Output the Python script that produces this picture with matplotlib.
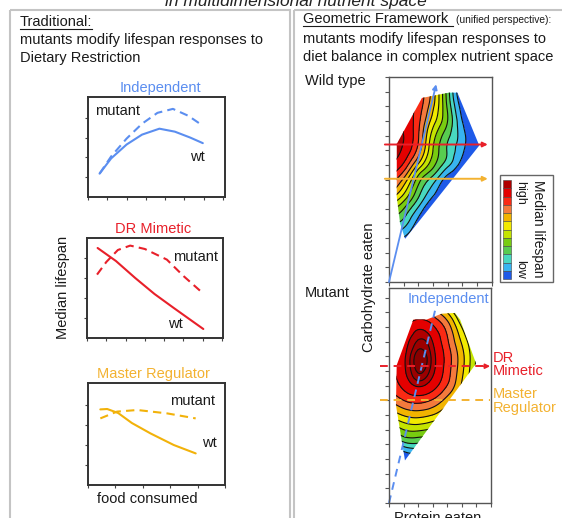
import numpy as np
import matplotlib
matplotlib.use('Agg')
import matplotlib.pyplot as plt
import matplotlib.tri as mtri
from matplotlib.patches import Polygon, Rectangle

plt.rcParams['font.family'] = ['Liberation Sans', 'DejaVu Sans']

# ---------------- data ----------------
# Left: traditional view, median lifespan vs food consumed
ind_wt_x = [0.6, 1.2, 2.0, 2.8, 3.7, 4.5, 5.3, 5.95]
ind_wt_y = [1.18, 1.95, 2.65, 3.15, 3.45, 3.3, 3.0, 2.72]
ind_mut_x = [0.6, 1.2, 2.0, 2.8, 3.6, 4.4, 5.2, 5.95]
ind_mut_y = [1.18, 2.05, 2.95, 3.7, 4.25, 4.45, 4.1, 3.6]

drm_wt_x = [0.55, 1.5, 2.5, 3.5, 4.5, 5.3, 6.03]
drm_wt_y = [4.5, 3.85, 3.0, 2.2, 1.5, 0.95, 0.45]
drm_mut_x = [0.52, 1.0, 1.6, 2.24, 3.0, 4.14, 5.0, 6.03]
drm_mut_y = [3.17, 3.8, 4.4, 4.62, 4.45, 3.92, 3.1, 2.22]

mr_wt_x = [0.45, 0.7, 1.1, 1.6, 2.28, 3.13, 3.93]
mr_wt_y = [3.78, 3.8, 3.6, 3.1, 2.58, 2.0, 1.58]
mr_mut_x = [0.45, 1.06, 1.8, 2.89, 3.93]
mr_mut_y = [3.33, 3.67, 3.75, 3.58, 3.33]

# Right: geometric framework, lifespan surfaces (protein x carbohydrate)
grid_protein = [0, 1, 2, 3, 4, 5, 6, 7]
grid_carb = [0, 1, 2, 3, 4, 5, 6, 7, 8, 9, 10, 11, 12, 13, 14]
wt_lifespan = [
    [0.0, 0.0, 0.0, 0.0, 0.0, 0.0, 0.0, 0.0],
    [0.0, 0.0, 0.0, 0.0, 0.0, 0.0, 0.0, 0.0],
    [0.3, 0.0, 0.0, 0.0, 0.0, 0.0, 0.0, 0.0],
    [1.2, 0.9, 0.0, 0.0, 0.0, 0.0, 0.0, 0.0],
    [3.2, 2.5, 0.6, 0.0, 0.0, 0.0, 0.0, 0.0],
    [5.5, 4.0, 1.8, 0.0, 0.0, 0.0, 0.0, 0.0],
    [8.0, 6.0, 3.3, 1.2, 0.0, 0.0, 0.0, 0.0],
    [10.0, 7.8, 4.5, 2.5, 0.5, 0.0, 0.0, 0.0],
    [11.0, 9.8, 6.8, 4.3, 2.3, 0.6, 0.0, 0.0],
    [11.7, 10.8, 8.6, 5.0, 2.9, 1.2, 0.0, 0.0],
    [11.8, 11.0, 9.1, 5.5, 3.3, 1.4, 0.2, 0.0],
    [11.6, 10.8, 9.3, 6.5, 4.0, 1.0, 0.0, 0.0],
    [11.4, 10.6, 9.6, 7.2, 3.8, 0.5, 0.0, 0.0],
    [11.2, 10.4, 9.7, 7.5, 3.5, 0.0, 0.0, 0.0],
    [11.0, 10.2, 9.5, 7.3, 3.2, 0.0, 0.0, 0.0],
]
mut_lifespan = [
    [0.0, 0.0, 0.0, 0.0, 0.0, 0.0, 0.0, 0.0],
    [0.0, 0.0, 0.0, 0.0, 0.0, 0.0, 0.0, 0.0],
    [0.0, 0.0, 0.0, 0.0, 0.0, 0.0, 0.0, 0.0],
    [0.0, 0.0, 0.2, 0.0, 0.0, 0.0, 0.0, 0.0],
    [1.6, 2.5, 2.8, 2.4, 1.5, 0.0, 0.0, 0.0],
    [4.0, 5.0, 5.2, 4.8, 3.8, 2.2, 0.0, 0.0],
    [6.2, 7.1, 7.4, 7.0, 5.9, 4.1, 1.9, 0.0],
    [8.0, 9.0, 9.4, 8.9, 7.6, 5.8, 3.3, 0.4],
    [9.1, 10.3, 11.1, 10.5, 9.0, 6.9, 4.3, 1.3],
    [9.4, 10.8, 11.8, 11.2, 9.5, 7.3, 4.8, 1.8],
    [9.4, 10.8, 11.9, 11.3, 9.6, 7.4, 4.9, 1.8],
    [9.2, 10.5, 11.5, 11.0, 9.2, 6.9, 4.5, 1.5],
    [8.8, 9.8, 10.8, 10.2, 8.6, 6.0, 3.5, 0.6],
    [7.4, 8.2, 9.0, 8.5, 7.0, 4.5, 2.2, 0.0],
    [5.5, 6.2, 6.8, 6.3, 5.0, 2.7, 0.0, 0.0],
]
# sampled (measured) region of nutrient space
wt_region_x = [0.53, 2.25, 4.09, 4.67, 6.16, 1.10, 0.76, 0.53]
wt_region_y = [9.43, 12.57, 12.93, 12.93, 9.32, 2.95, 3.98, 5.8]
mut_region_x = [0.53, 1.68, 2.6, 3.63, 4.55, 4.9, 6.0, 1.1, 0.48]
mut_region_y = [9.39, 12.5, 12.5, 12.9, 12.95, 12.5, 9.5, 2.9, 6.66]

# diet rails (P:C ratio line, DR and master-regulator carbohydrate levels)
rail_end = [3.22, 13.5]
rail_end_mut = [3.17, 13.1]
dr_carb_wt, mr_carb_wt = 9.39, 7.05
dr_carb_mut, mr_carb_mut = 9.32, 7.0

lifespan_levels = [-100, 1, 2, 3, 4, 5, 6, 7, 8, 9, 10, 11, 11.45, 11.75, 100]
band_colors = ['#1e5ae8', '#38b4f0', '#48d8c0', '#58cc50', '#78cc10', '#c4e400',
               '#f2ea00', '#f2b400', '#f47a3c', '#fa2a14', '#e40000', '#b00000',
               '#9c0000', '#880000']
key_colors = band_colors[:12]

BLUE = '#5b8ef0'
RED = '#e8202a'
ORANGE = '#f3b231'

# ---------------- figure ----------------
W, H = 562, 518
fig = plt.figure(figsize=(W / 100, H / 100), dpi=100)


def px_axes(x0, y0, x1, y1):
    return fig.add_axes([x0 / W, 1 - y1 / H, (x1 - x0) / W, (y1 - y0) / H])


def style_line_axes(ax, xlim, ylim, xt, yt):
    ax.set_xlim(*xlim)
    ax.set_ylim(*ylim)
    ax.set_xticks(xt)
    ax.set_yticks(yt)
    ax.tick_params(direction='out', length=2.5, width=0.8, labelleft=False,
                   labelbottom=False, colors='#444')
    for s in ax.spines.values():
        s.set_linewidth(1.4)
        s.set_color('#333')


# left line panels
panels = [
    ((88, 97, 225, 197), BLUE, ind_wt_x, ind_wt_y, ind_mut_x, ind_mut_y, (0, 7.1), (0, 5.05), range(0, 8), range(1, 5)),
    ((87, 238, 223, 338), RED, drm_wt_x, drm_wt_y, drm_mut_x, drm_mut_y, (0, 7.05), (0, 5.0), range(0, 8), range(1, 5)),
    ((88, 383, 225, 485), '#f2b20a', mr_wt_x, mr_wt_y, mr_mut_x, mr_mut_y, (0, 5.0), (0, 5.1), range(0, 6), range(1, 5)),
]
for box, col, wx, wy, mx, my, xl, yl, xt, yt in panels:
    ax = px_axes(*box)
    ax.plot(wx, wy, color=col, lw=1.5, solid_capstyle='round')
    ax.plot(mx, my, color=col, lw=1.5, ls=(0, (4, 2.5)))
    style_line_axes(ax, xl, yl, xt, yt)


# right contour panels
def surface(box, values, reg_x, reg_y, ylim):
    ax = px_axes(*box)
    X, Y = np.meshgrid(grid_protein, grid_carb)
    Z = np.asarray(values, dtype=float)
    tri = mtri.Triangulation(X.ravel(), Y.ravel())
    refiner = mtri.UniformTriRefiner(tri)
    tri_f, z_f = refiner.refine_field(Z.ravel(), subdiv=3)
    clip = Polygon(np.column_stack([reg_x, reg_y]), closed=True,
                   facecolor='none', edgecolor='none', transform=ax.transData)
    ax.add_patch(clip)
    cf = ax.tricontourf(tri_f, z_f, levels=lifespan_levels, colors=band_colors)
    cl = ax.tricontour(tri_f, z_f, levels=lifespan_levels[1:-1], colors='#111',
                       linewidths=0.8)
    cf.set_clip_path(clip)
    cl.set_clip_path(clip)
    ax.set_xlim(0, 7.03)
    ax.set_ylim(*ylim)
    ax.set_xticks(range(0, 8))
    ax.set_yticks(range(0, int(ylim[1]) + 1))
    ax.tick_params(direction='out', length=3, width=0.8, labelleft=False,
                   labelbottom=False, colors='#555')
    for s in ax.spines.values():
        s.set_linewidth(1.0)
        s.set_color('#555')
    return ax


ax_wt = surface((389, 77, 492, 282), wt_lifespan, wt_region_x, wt_region_y, (0, 14.0))
ax_wt.annotate('', xy=rail_end, xytext=(0, 0),
               arrowprops=dict(arrowstyle='-|>', color=BLUE, lw=1.3, mutation_scale=7,
                               shrinkA=0, shrinkB=0), annotation_clip=False)
for yv, c in ((dr_carb_wt, RED), (mr_carb_wt, ORANGE)):
    ax_wt.annotate('', xy=(6.74, yv), xytext=(-0.28, yv),
                   arrowprops=dict(arrowstyle='-|>', color=c, lw=1.4, mutation_scale=7,
                                   shrinkA=0, shrinkB=0), annotation_clip=False)

ax_mut = surface((389, 288, 491, 503), mut_lifespan, mut_region_x, mut_region_y, (0, 14.65))
ax_mut.plot([0, rail_end_mut[0]], [0, rail_end_mut[1]], color=BLUE, lw=1.4,
            ls=(0, (4, 3)), clip_on=False)
ax_mut.plot([-0.62, 6.8], [dr_carb_mut, dr_carb_mut], color=RED, lw=1.4,
            ls=(0, (4, 3)), clip_on=False)
ax_mut.annotate('', xy=(6.97, dr_carb_mut), xytext=(6.5, dr_carb_mut),
                arrowprops=dict(arrowstyle='-|>', color=RED, lw=1.2, mutation_scale=7,
                                shrinkA=0, shrinkB=0), annotation_clip=False)
ax_mut.plot([-0.62, 6.97], [mr_carb_mut, mr_carb_mut], color=ORANGE, lw=1.4,
            ls=(0, (4, 3)), clip_on=False)

# ---------------- overlay: boxes, text, legend ----------------
ov = fig.add_axes([0, 0, 1, 1], zorder=10)
ov.set_xlim(0, W)
ov.set_ylim(H, 0)
ov.axis('off')
ov.patch.set_alpha(0)

ov.add_patch(Rectangle((10, 10), 280, 520, fill=False, ec='#c4c4c4', lw=1.5))
ov.add_patch(Rectangle((294, 10), 280, 520, fill=False, ec='#c4c4c4', lw=1.5))

ov.text(296, 6, 'in multidimensional nutrient space', ha='center', va='baseline',
        fontsize=12.5, style='italic', color='#222')

TXT = '#1a1a1a'
FS = 10.5
ov.text(20, 26, 'Traditional:', fontsize=FS, color=TXT, va='baseline')
ov.plot([20, 92], [28.5, 28.5], color=TXT, lw=0.8)
ov.text(20, 44, 'mutants modify lifespan responses to', fontsize=FS, color=TXT, va='baseline')
ov.text(20, 62, 'Dietary Restriction', fontsize=FS, color=TXT, va='baseline')

ov.text(303, 23, 'Geometric Framework', fontsize=FS, color=TXT, va='baseline')
ov.plot([303, 453], [25.5, 25.5], color=TXT, lw=0.8)
ov.text(456, 23, '(unified perspective):', fontsize=7.4, color=TXT, va='baseline')
ov.text(303, 43, 'mutants modify lifespan responses to', fontsize=FS, color=TXT, va='baseline')
ov.text(303, 61, 'diet balance in complex nutrient space', fontsize=FS, color=TXT, va='baseline')

# left panel labels
ov.text(160, 92, 'Independent', ha='center', va='baseline', fontsize=10.5, color=BLUE)
ov.text(95, 115, 'mutant', va='baseline', fontsize=10.5, color=TXT)
ov.text(190, 161, 'wt', va='baseline', fontsize=10.5, color=TXT)
ov.text(153, 233, 'DR Mimetic', ha='center', va='baseline', fontsize=10.5, color=RED)
ov.text(173, 261, 'mutant', va='baseline', fontsize=10.5, color=TXT)
ov.text(168, 328, 'wt', va='baseline', fontsize=10.5, color=TXT)
ov.text(153, 378, 'Master Regulator', ha='center', va='baseline', fontsize=10.5, color=ORANGE)
ov.text(170, 405, 'mutant', va='baseline', fontsize=10.5, color=TXT)
ov.text(202, 447, 'wt', va='baseline', fontsize=10.5, color=TXT)
ov.text(63, 287, 'Median lifespan', rotation=90, ha='center', va='center', fontsize=10.5, color=TXT)
ov.text(147, 503, 'food consumed', ha='center', va='baseline', fontsize=10.5, color=TXT)

# right panel labels
ov.text(305, 85, 'Wild type', va='baseline', fontsize=10.5, color=TXT)
ov.text(305, 297, 'Mutant', va='baseline', fontsize=10.5, color=TXT)
ov.text(369, 287, 'Carbohydrate eaten', rotation=90, ha='center', va='center', fontsize=10.5, color=TXT)
ov.text(438, 511, 'Protein eaten', ha='center', va='top', fontsize=10.5, color=TXT)
ov.text(408, 303, 'Independent', va='baseline', fontsize=10.5, color=BLUE)
ov.text(493, 362, 'DR', va='baseline', fontsize=10.5, color=RED)
ov.text(493, 375, 'Mimetic', va='baseline', fontsize=10.5, color=RED)
ov.text(493, 398, 'Master', va='baseline', fontsize=10.5, color=ORANGE)
ov.text(493, 412, 'Regulator', va='baseline', fontsize=10.5, color=ORANGE)

# colour key
ov.add_patch(Rectangle((500, 175), 53, 107, fill=False, ec='#666', lw=1.0))
n = len(key_colors)
top, bot = 180, 279
h = (bot - top) / n
for i, c in enumerate(reversed(key_colors)):
    ov.add_patch(Rectangle((503, top + i * h), 8, h, fc=c, ec='#444', lw=0.4))
ov.text(538, 229, 'Median lifespan', rotation=-90, ha='center', va='center', fontsize=10, color=TXT)
ov.text(520, 181, 'high', rotation=-90, ha='center', va='top', fontsize=9, color=TXT)
ov.text(520, 279, 'low', rotation=-90, ha='center', va='bottom', fontsize=9, color=TXT)

fig.savefig('out.png', dpi=100)
